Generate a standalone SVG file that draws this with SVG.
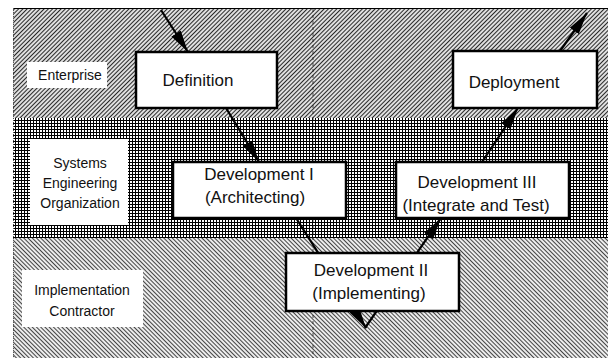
<svg xmlns="http://www.w3.org/2000/svg" width="608" height="358" viewBox="0 0 608 358">
  <defs>
    <!-- upper band: "/" hatching -->
    <pattern id="hatchUp" width="3" height="3" patternUnits="userSpaceOnUse" patternTransform="rotate(45)">
      <rect width="3" height="3" fill="#ffffff"/>
      <line x1="1.5" y1="0" x2="1.5" y2="3" stroke="#2a2a2a" stroke-width="1.3"/>
    </pattern>
    <!-- middle band: fine square grid -->
    <pattern id="grid" width="3" height="3" patternUnits="userSpaceOnUse">
      <rect width="3" height="3" fill="#ffffff"/>
      <path d="M0 0.5H3M0.5 0V3" stroke="#000" stroke-width="1"/>
    </pattern>
    <!-- lower band: "\" hatching -->
    <pattern id="hatchDown" width="3" height="3" patternUnits="userSpaceOnUse" patternTransform="rotate(-45)">
      <rect width="3" height="3" fill="#ffffff"/>
      <line x1="1.5" y1="0" x2="1.5" y2="3" stroke="#444" stroke-width="1.2"/>
    </pattern>
    <marker id="arrow" markerUnits="userSpaceOnUse" markerWidth="24" markerHeight="13" refX="22" refY="6.5" orient="auto">
      <path d="M0,1 L22,6.5 L0,12 Z" fill="#000"/>
    </marker>
    <style>
      .lane { fill: #ffffff; }
      .lane-text { font-family: "Liberation Sans", Arial, sans-serif; font-size: 14px; fill: #111; text-anchor: middle; }
      .box { fill: #ffffff; stroke: #000; stroke-width: 2.5; }
      .box-text { font-family: "Liberation Sans", Arial, sans-serif; font-size: 17px; fill: #111; text-anchor: middle; }
      .flow { fill: none; stroke: #000; stroke-width: 2.2; }
    </style>
  </defs>

  <rect width="608" height="358" fill="#ffffff"/>

  <!-- organisational bands -->
  <g id="bands">
    <rect x="13" y="8" width="595" height="110" fill="url(#hatchUp)"/>
    <rect x="13" y="118" width="595" height="120" fill="url(#grid)"/>
    <rect x="13" y="238" width="595" height="120" fill="url(#hatchDown)"/>
    <line x1="13" y1="8.5" x2="608" y2="8.5" stroke="#000" stroke-width="1"/>
    <line x1="13.5" y1="8" x2="13.5" y2="358" stroke="#555" stroke-width="1" stroke-dasharray="1 1"/>
    <line x1="313" y1="9" x2="313" y2="358" stroke="#111" stroke-width="1.2" stroke-dasharray="3 3" opacity="0.6"/>
  </g>

  <!-- band labels -->
  <g id="lane-enterprise">
    <rect class="lane" x="27" y="62" width="80" height="26"/>
    <text class="lane-text" x="70" y="80">Enterprise</text>
  </g>
  <g id="lane-seo">
    <rect class="lane" x="30" y="139" width="98" height="86"/>
    <text class="lane-text" x="80" y="168">Systems</text>
    <text class="lane-text" x="80" y="188">Engineering</text>
    <text class="lane-text" x="80" y="208">Organization</text>
  </g>
  <g id="lane-contractor">
    <rect class="lane" x="22" y="270" width="121" height="57"/>
    <text class="lane-text" x="82" y="295">Implementation</text>
    <text class="lane-text" x="82" y="316">Contractor</text>
  </g>

  <!-- connectors -->
  <g id="connectors">
    <path class="flow" d="M161,10 L188,52" marker-end="url(#arrow)"/>
    <path class="flow" d="M226,108 L259,162" marker-end="url(#arrow)"/>
    <path class="flow" d="M296,218 L366,328" marker-end="url(#arrow)"/>
    <path class="flow" d="M365,328 L441,218" marker-end="url(#arrow)"/>
    <path class="flow" d="M482,162 L518,108" marker-end="url(#arrow)"/>
    <path class="flow" d="M560,51 L587,13" marker-end="url(#arrow)"/>
  </g>

  <!-- phases -->
  <g id="definition">
    <rect class="box" x="136" y="52" width="141" height="56"/>
    <text class="box-text" x="198" y="86">Definition</text>
  </g>
  <g id="deployment">
    <rect class="box" x="453" y="51" width="144" height="57"/>
    <text class="box-text" x="514" y="88">Deployment</text>
  </g>
  <g id="development-1">
    <rect class="box" x="173" y="162" width="173" height="56"/>
    <text class="box-text" x="259" y="180">Development I</text>
    <text class="box-text" x="255" y="203">(Architecting)</text>
  </g>
  <g id="development-3">
    <rect class="box" x="396" y="162" width="173" height="56"/>
    <text class="box-text" x="477" y="188">Development III</text>
    <text class="box-text" x="476" y="211">(Integrate and Test)</text>
  </g>
  <g id="development-2">
    <rect class="box" x="286" y="253" width="173" height="58"/>
    <text class="box-text" x="371" y="276">Development II</text>
    <text class="box-text" x="369" y="299">(Implementing)</text>
  </g>
</svg>
